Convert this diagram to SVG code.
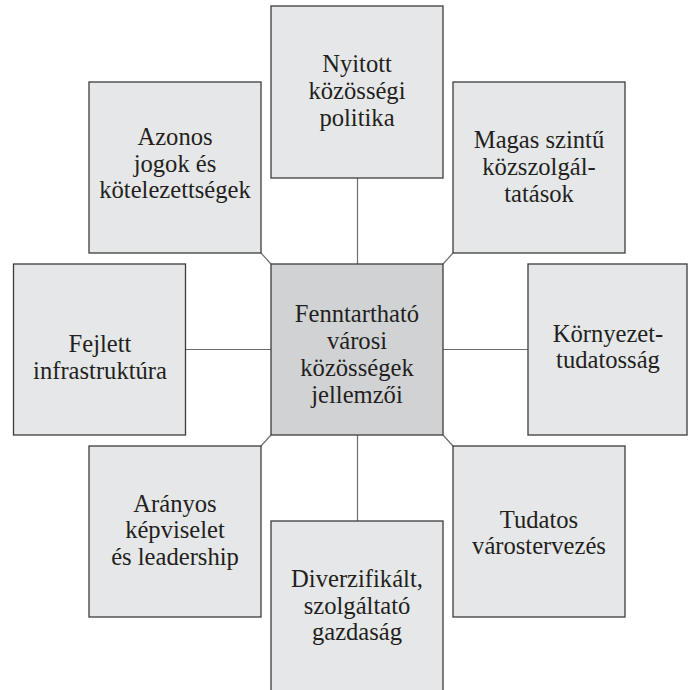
<svg xmlns="http://www.w3.org/2000/svg" width="688" height="690" viewBox="0 0 688 690">
<style>
.box{fill:#e6e7e8;stroke:#3c3c3c;stroke-width:1.3}
.center{fill:#d1d2d4;stroke:#3c3c3c;stroke-width:1.3}
.conn{stroke:#6d6e70;stroke-width:1.2;fill:none}
.t{font-family:'Liberation Serif','DejaVu Serif',serif;font-size:24.6px;fill:#231f20;text-anchor:middle}
</style>
<rect width="688" height="690" fill="#ffffff"/>
<g id="connectors">
<line class="conn" x1="357.5" y1="178" x2="357.5" y2="264"/>
<line class="conn" x1="357.5" y1="435" x2="357.5" y2="521"/>
<line class="conn" x1="186" y1="349.5" x2="271" y2="349.5"/>
<line class="conn" x1="443" y1="349.5" x2="528" y2="349.5"/>
<line class="conn" x1="261" y1="253" x2="271" y2="264"/>
<line class="conn" x1="443" y1="264" x2="453" y2="253"/>
<line class="conn" x1="271" y1="435" x2="261" y2="446"/>
<line class="conn" x1="443" y1="435" x2="453" y2="446"/>
</g>
<g id="center">
<rect class="center" x="271" y="264" width="172" height="171"/>
<text class="t" x="357" y="322">Fenntartható</text>
<text class="t" x="357" y="349">városi</text>
<text class="t" x="357" y="376">közösségek</text>
<text class="t" x="357" y="403">jellemzői</text>
</g>
<g id="nyitott">
<rect class="box" x="271" y="6" width="172" height="172"/>
<text class="t" x="357" y="72">Nyitott</text>
<text class="t" x="357" y="99">közösségi</text>
<text class="t" x="357" y="126">politika</text>
</g>
<g id="azonos">
<rect class="box" x="89" y="82" width="172" height="171"/>
<text class="t" x="175" y="145">Azonos</text>
<text class="t" x="175" y="172">jogok és</text>
<text class="t" x="175" y="198">kötelezettségek</text>
</g>
<g id="magas">
<rect class="box" x="453" y="82" width="172" height="171"/>
<text class="t" x="539" y="148">Magas szintű</text>
<text class="t" x="539" y="175">közszolgál-</text>
<text class="t" x="539" y="202">tatások</text>
</g>
<g id="fejlett">
<rect class="box" x="13.5" y="264" width="172" height="171"/>
<text class="t" x="100" y="352">Fejlett</text>
<text class="t" x="100" y="379">infrastruktúra</text>
</g>
<g id="kornyezet">
<rect class="box" x="528" y="264" width="159" height="171"/>
<text class="t" x="608" y="342">Környezet-</text>
<text class="t" x="608" y="368">tudatosság</text>
</g>
<g id="aranyos">
<rect class="box" x="89" y="446" width="172" height="171"/>
<text class="t" x="175" y="512">Arányos</text>
<text class="t" x="175" y="538">képviselet</text>
<text class="t" x="175" y="565">és leadership</text>
</g>
<g id="tudatos">
<rect class="box" x="453" y="446" width="172" height="171"/>
<text class="t" x="539" y="528">Tudatos</text>
<text class="t" x="539" y="554">várostervezés</text>
</g>
<g id="diverzifikalt">
<rect class="box" x="271" y="521" width="172" height="175"/>
<text class="t" x="357" y="587">Diverzifikált,</text>
<text class="t" x="357" y="614">szolgáltató</text>
<text class="t" x="357" y="640">gazdaság</text>
</g>
</svg>
